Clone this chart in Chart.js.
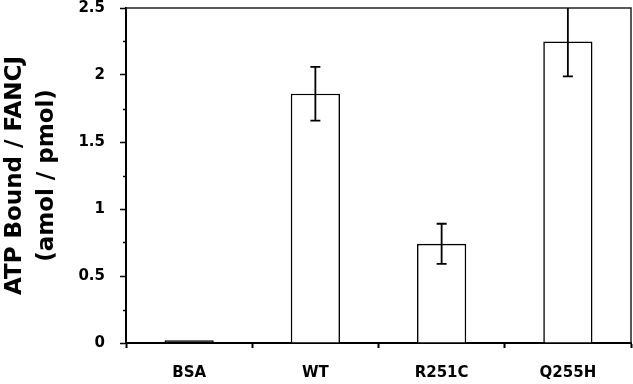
<!DOCTYPE html>
<html>
<head>
<meta charset="utf-8">
<script src="https://cdn.jsdelivr.net/npm/chart.js@4.4.1/dist/chart.umd.min.js"></script>
<style>
  body { margin: 0; background: #fff; }
  canvas { display: block; }
</style>
</head>
<body>
<canvas id="atpChart" width="633" height="384"></canvas>
<script>
// Data
const categories = ['BSA', 'WT', 'R251C', 'Q255H'];
const atpBound = [0.02, 1.86, 0.74, 2.25];
const atpError = [0, 0.2, 0.15, 0.26];
const yTicks = [0, 0.5, 1, 1.5, 2, 2.5];
const yMinorTicks = [0.25, 0.75, 1.25, 1.75, 2.25];

const FONT = "'DejaVu Sans', sans-serif";

// Error bars, minor ticks and the thin frame on top/right
const extrasPlugin = {
  id: 'extras',
  afterDatasetsDraw(chart) {
    const ctx = chart.ctx;
    const area = chart.chartArea;
    const yScale = chart.scales.y;
    const meta = chart.getDatasetMeta(0);

    ctx.save();
    // frame
    ctx.strokeStyle = '#222';
    ctx.lineWidth = 1.5;
    ctx.beginPath();
    ctx.moveTo(area.left, area.top);
    ctx.lineTo(area.right, area.top);
    ctx.lineTo(area.right, area.bottom);
    ctx.stroke();

    // error bars
    ctx.strokeStyle = '#000';
    ctx.lineWidth = 1.8;
    atpError.forEach((err, i) => {
      if (!err) return;
      const x = meta.data[i].x;
      let yHi = yScale.getPixelForValue(atpBound[i] + err);
      let yLo = yScale.getPixelForValue(atpBound[i] - err);
      const hiClipped = yHi < area.top;
      if (hiClipped) yHi = area.top;
      ctx.beginPath();
      ctx.moveTo(x, yHi);
      ctx.lineTo(x, yLo);
      if (!hiClipped) {
        ctx.moveTo(x - 5, yHi);
        ctx.lineTo(x + 5, yHi);
      }
      ctx.moveTo(x - 5, yLo);
      ctx.lineTo(x + 5, yLo);
      ctx.stroke();
    });

    // minor ticks on the y axis
    ctx.lineWidth = 1.5;
    yMinorTicks.forEach(v => {
      const y = Math.round(yScale.getPixelForValue(v)) + 0.5;
      ctx.beginPath();
      ctx.moveTo(area.left - 3, y);
      ctx.lineTo(area.left, y);
      ctx.stroke();
    });
    ctx.restore();
  }
};

const ctx = document.getElementById('atpChart').getContext('2d');
const atpChart = new Chart(ctx, {
  type: 'bar',
  data: {
    labels: categories,
    datasets: [{
      data: atpBound,
      // very short bars come out as a solid black line in the original
      backgroundColor: (c) => (c.raw < 0.05 ? '#000' : '#fff'),
      borderColor: '#000',
      borderWidth: 1.6,
      barPercentage: 0.39,
      categoryPercentage: 1
    }]
  },
  options: {
    responsive: false,
    animation: false,
    layout: { padding: { top: 8, right: 2, left: 0, bottom: 0 } },
    plugins: {
      legend: { display: false },
      tooltip: { enabled: false }
    },
    scales: {
      x: {
        grid: {
          offset: true,
          drawOnChartArea: false,
          tickLength: 5,
          tickColor: '#000',
          tickWidth: 2
        },
        border: { color: '#000', width: 2 },
        ticks: {
          color: '#000',
          padding: 16,
          font: { family: FONT, size: 15, weight: 'bold' }
        },
        afterFit: (scale) => {
          scale.height = 41;
          scale.paddingLeft = 0;
          scale.paddingRight = 0;
        }
      },
      y: {
        min: 0,
        max: 2.5,
        afterBuildTicks: (scale) => { scale.ticks = yTicks.map(v => ({ value: v })); },
        grid: {
          drawOnChartArea: false,
          tickLength: 6,
          tickColor: '#000',
          tickWidth: 1.5
        },
        border: { color: '#000', width: 2 },
        ticks: {
          color: '#000',
          padding: 15,
          font: { family: FONT, size: 15, weight: 'bold' },
          callback: (v) => String(v)
        },
        title: {
          display: true,
          text: ['ATP Bound / FANCJ', '(amol / pmol)'],
          color: '#000',
          padding: { top: 0, bottom: 0 },
          font: { family: FONT, size: 23, weight: 'bold', lineHeight: 1.35 }
        },
        afterFit: (scale) => {
          scale.width = 126;
          scale.paddingTop = 0;
          scale.paddingBottom = 0;
        }
      }
    }
  },
  plugins: [extrasPlugin]
});
</script>
</body>
</html>
